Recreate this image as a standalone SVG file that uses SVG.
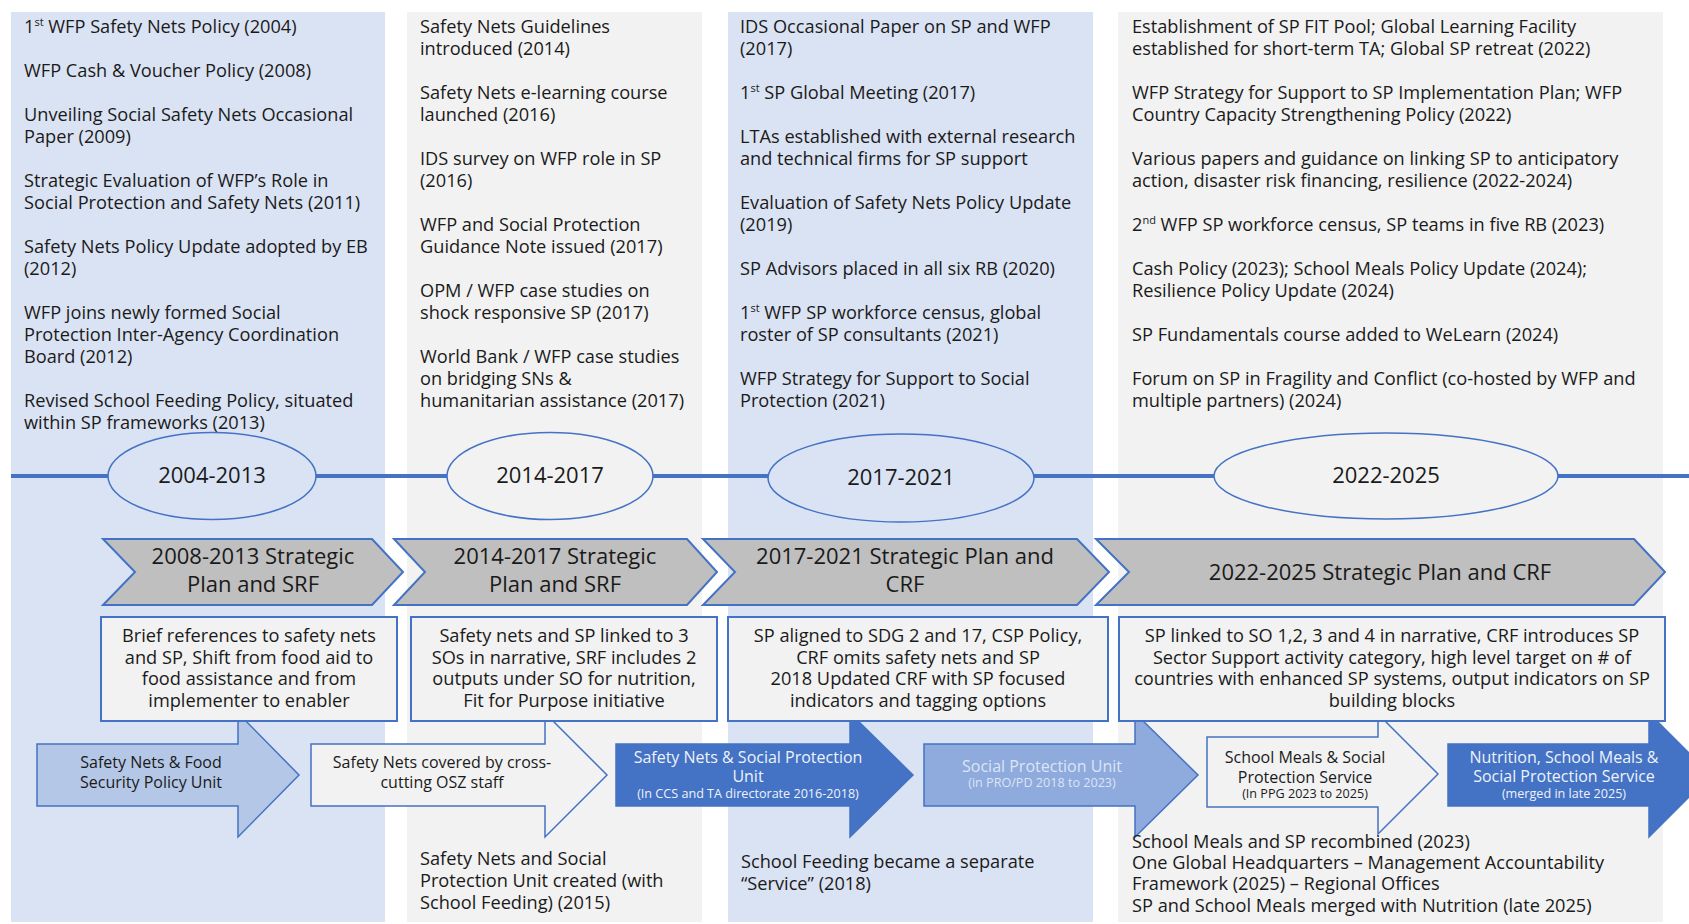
<svg xmlns="http://www.w3.org/2000/svg" width="1689" height="924" viewBox="0 0 1689 924">
<style>
.bgb{fill:#DAE3F3}
.bgg{fill:#F2F2F2}
text{font-family:"Open Sans","Liberation Sans",sans-serif;fill:#1A1A1A}
.t{font-size:18.2px}
.c{text-anchor:middle}
.big{font-size:22px}
.a{font-size:16px}
.s{font-size:12.6px}
.chev{fill:#BFBFBF;stroke:#4472C4;stroke-width:2}
.box{fill:#F2F2F2;stroke:#4472C4;stroke-width:2}
.ell{stroke:#4472C4;stroke-width:1.5}
.arr{stroke:#4472C4;stroke-width:1.5}
.w{fill:#EEF2FA}
.lw{fill:#DCE5F5}
</style>
<rect width="1689" height="924" fill="#FFFFFF"/>
<g id="columns">
<rect class="bgb" x="11" y="12" width="374" height="910"/>
<rect class="bgg" x="407" y="12" width="295" height="910"/>
<rect class="bgb" x="728" y="12" width="365" height="910"/>
<rect class="bgg" x="1118" y="12" width="545" height="910"/>
</g>
<g id="col1-events" class="t">
<text x="24" y="33">1<tspan dy="-7" font-size="11">st</tspan><tspan dy="7"> WFP Safety Nets Policy (2004)</tspan></text>
<text x="24" y="77">WFP Cash &amp; Voucher Policy (2008)</text>
<text x="24" y="121">Unveiling Social Safety Nets Occasional</text>
<text x="24" y="143">Paper (2009)</text>
<text x="24" y="187">Strategic Evaluation of WFP’s Role in</text>
<text x="24" y="209">Social Protection and Safety Nets (2011)</text>
<text x="24" y="253">Safety Nets Policy Update adopted by EB</text>
<text x="24" y="275">(2012)</text>
<text x="24" y="319">WFP joins newly formed Social</text>
<text x="24" y="341">Protection Inter-Agency Coordination</text>
<text x="24" y="363">Board (2012)</text>
<text x="24" y="407">Revised School Feeding Policy, situated</text>
<text x="24" y="429">within SP frameworks (2013)</text>
</g>
<g id="col2-events" class="t">
<text x="420" y="33">Safety Nets Guidelines</text>
<text x="420" y="55">introduced (2014)</text>
<text x="420" y="99">Safety Nets e-learning course</text>
<text x="420" y="121">launched (2016)</text>
<text x="420" y="165">IDS survey on WFP role in SP</text>
<text x="420" y="187">(2016)</text>
<text x="420" y="231">WFP and Social Protection</text>
<text x="420" y="253">Guidance Note issued (2017)</text>
<text x="420" y="297">OPM / WFP case studies on</text>
<text x="420" y="319">shock responsive SP (2017)</text>
<text x="420" y="363">World Bank / WFP case studies</text>
<text x="420" y="385">on bridging SNs &amp;</text>
<text x="420" y="407">humanitarian assistance (2017)</text>
</g>
<g id="col3-events" class="t">
<text x="740" y="33">IDS Occasional Paper on SP and WFP</text>
<text x="740" y="55">(2017)</text>
<text x="740" y="99">1<tspan dy="-7" font-size="11">st</tspan><tspan dy="7"> SP Global Meeting (2017)</tspan></text>
<text x="740" y="143">LTAs established with external research</text>
<text x="740" y="165">and technical firms for SP support</text>
<text x="740" y="209">Evaluation of Safety Nets Policy Update</text>
<text x="740" y="231">(2019)</text>
<text x="740" y="275">SP Advisors placed in all six RB (2020)</text>
<text x="740" y="319">1<tspan dy="-7" font-size="11">st</tspan><tspan dy="7"> WFP SP workforce census, global</tspan></text>
<text x="740" y="341">roster of SP consultants (2021)</text>
<text x="740" y="385">WFP Strategy for Support to Social</text>
<text x="740" y="407">Protection (2021)</text>
</g>
<g id="col4-events" class="t">
<text x="1132" y="33">Establishment of SP FIT Pool; Global Learning Facility</text>
<text x="1132" y="55">established for short-term TA; Global SP retreat (2022)</text>
<text x="1132" y="99">WFP Strategy for Support to SP Implementation Plan; WFP</text>
<text x="1132" y="121">Country Capacity Strengthening Policy (2022)</text>
<text x="1132" y="165">Various papers and guidance on linking SP to anticipatory</text>
<text x="1132" y="187">action, disaster risk financing, resilience (2022-2024)</text>
<text x="1132" y="231">2<tspan dy="-7" font-size="11">nd</tspan><tspan dy="7"> WFP SP workforce census, SP teams in five RB (2023)</tspan></text>
<text x="1132" y="275">Cash Policy (2023); School Meals Policy Update (2024);</text>
<text x="1132" y="297">Resilience Policy Update (2024)</text>
<text x="1132" y="341">SP Fundamentals course added to WeLearn (2024)</text>
<text x="1132" y="385">Forum on SP in Fragility and Conflict (co-hosted by WFP and</text>
<text x="1132" y="407">multiple partners) (2024)</text>
</g>
<g id="connectors">
<line x1="11" y1="476" x2="1689" y2="476" stroke="#4472C4" stroke-width="4"/>
</g>
<g id="period-2004-2013">
<ellipse class="ell bgb" cx="212" cy="476" rx="104" ry="43.5"/>
<text class="big c" x="212" y="483">2004-2013</text>
</g>
<g id="period-2014-2017">
<ellipse class="ell bgg" cx="550" cy="476" rx="103" ry="43.5"/>
<text class="big c" x="550" y="483">2014-2017</text>
</g>
<g id="period-2017-2021">
<ellipse class="ell bgb" cx="901" cy="478" rx="133" ry="44"/>
<text class="big c" x="901" y="485">2017-2021</text>
</g>
<g id="period-2022-2025">
<ellipse class="ell bgg" cx="1386" cy="476" rx="172" ry="43"/>
<text class="big c" x="1386" y="483">2022-2025</text>
</g>
<g id="plan-2008-2013">
<polygon class="chev" points="103,539 372,539 403,572 372,605 103,605 135,572"/>
<text class="big c" x="253" y="564">2008-2013 Strategic</text>
<text class="big c" x="253" y="592">Plan and SRF</text>
</g>
<g id="plan-2014-2017">
<polygon class="chev" points="394,539 687,539 717,572 687,605 394,605 425,572"/>
<text class="big c" x="555" y="564">2014-2017 Strategic</text>
<text class="big c" x="555" y="592">Plan and SRF</text>
</g>
<g id="plan-2017-2021">
<polygon class="chev" points="703,539 1077,539 1109,572 1077,605 703,605 735,572"/>
<text class="big c" x="905" y="564">2017-2021 Strategic Plan and</text>
<text class="big c" x="905" y="592">CRF</text>
</g>
<g id="plan-2022-2025">
<polygon class="chev" points="1096,539 1634,539 1665,572 1634,605 1096,605 1129,572"/>
<text class="big c" x="1380" y="580">2022-2025 Strategic Plan and CRF</text>
</g>
<g id="unit-1">
<path class="arr" fill="#B4C7E7" d="M37,744 H238 V713 L299,775 L238,837 V806 H37 Z"/>
<text class="a c" x="151" y="768">Safety Nets &amp; Food</text>
<text class="a c" x="151" y="788">Security Policy Unit</text>
</g>
<g id="unit-2">
<path class="arr" fill="#F2F2F2" d="M311,744 H545 V713 L607,775 L545,837 V806 H311 Z"/>
<text class="a c" x="442" y="768">Safety Nets covered by cross-</text>
<text class="a c" x="442" y="788">cutting OSZ staff</text>
</g>
<g id="unit-3">
<path class="arr" fill="#4472C4" stroke="#2F5597" d="M616,744 H850 V713 L913,775 L850,837 V806 H616 Z"/>
<text class="a c w" x="748" y="763">Safety Nets &amp; Social Protection</text>
<text class="a c w" x="748" y="782">Unit</text>
<text class="s c w" x="748" y="798">(In CCS and TA directorate 2016-2018)</text>
</g>
<g id="unit-4">
<path class="arr" fill="#8FAADC" d="M924,744 H1135 V713 L1198,775 L1135,837 V806 H924 Z"/>
<text class="a c lw" x="1042" y="772">Social Protection Unit</text>
<text class="s c lw" x="1042" y="787">(in PRO/PD 2018 to 2023)</text>
</g>
<g id="unit-5">
<path class="arr" fill="#F2F2F2" d="M1207,737 H1378 V714 L1438,774 L1378,834 V807 H1207 Z"/>
<text class="a c" x="1305" y="763">School Meals &amp; Social</text>
<text class="a c" x="1305" y="783">Protection Service</text>
<text class="s c" x="1305" y="798">(In PPG 2023 to 2025)</text>
</g>
<g id="unit-6">
<path class="arr" fill="#4472C4" stroke="#2F5597" d="M1448,744 H1649 V713 L1711,775 L1649,837 V806 H1448 Z"/>
<text class="a c w" x="1564" y="763">Nutrition, School Meals &amp;</text>
<text class="a c w" x="1564" y="782">Social Protection Service</text>
<text class="s c w" x="1564" y="798">(merged in late 2025)</text>
</g>
<g id="desc-2008-2013">
<rect class="box" x="101" y="617" width="296" height="104"/>
<text class="t c" x="249" y="642">Brief references to safety nets</text>
<text class="t c" x="249" y="663.5">and SP, Shift from food aid to</text>
<text class="t c" x="249" y="685">food assistance and from</text>
<text class="t c" x="249" y="706.5">implementer to enabler</text>
</g>
<g id="desc-2014-2017">
<rect class="box" x="411" y="617" width="306" height="104"/>
<text class="t c" x="564" y="642">Safety nets and SP linked to 3</text>
<text class="t c" x="564" y="663.5">SOs in narrative, SRF includes 2</text>
<text class="t c" x="564" y="685">outputs under SO for nutrition,</text>
<text class="t c" x="564" y="706.5">Fit for Purpose initiative</text>
</g>
<g id="desc-2017-2021">
<rect class="box" x="728" y="617" width="380" height="104"/>
<text class="t c" x="918" y="642">SP aligned to SDG 2 and 17, CSP Policy,</text>
<text class="t c" x="918" y="663.5">CRF omits safety nets and SP</text>
<text class="t c" x="918" y="685">2018 Updated CRF with SP focused</text>
<text class="t c" x="918" y="706.5">indicators and tagging options</text>
</g>
<g id="desc-2022-2025">
<rect class="box" x="1119" y="617" width="546" height="104"/>
<text class="t c" x="1392" y="642">SP linked to SO 1,2, 3 and 4 in narrative, CRF introduces SP</text>
<text class="t c" x="1392" y="663.5">Sector Support activity category, high level target on # of</text>
<text class="t c" x="1392" y="685">countries with enhanced SP systems, output indicators on SP</text>
<text class="t c" x="1392" y="706.5">building blocks</text>
</g>
<g id="note-2015" class="t">
<text x="420" y="865">Safety Nets and Social</text>
<text x="420" y="887">Protection Unit created (with</text>
<text x="420" y="909">School Feeding) (2015)</text>
</g>
<g id="note-2018" class="t">
<text x="741" y="868">School Feeding became a separate</text>
<text x="741" y="890">“Service” (2018)</text>
</g>
<g id="note-2023-2025" class="t">
<text x="1132" y="848">School Meals and SP recombined (2023)</text>
<text x="1132" y="869">One Global Headquarters – Management Accountability</text>
<text x="1132" y="890">Framework (2025) – Regional Offices</text>
<text x="1132" y="912">SP and School Meals merged with Nutrition (late 2025)</text>
</g>
</svg>
